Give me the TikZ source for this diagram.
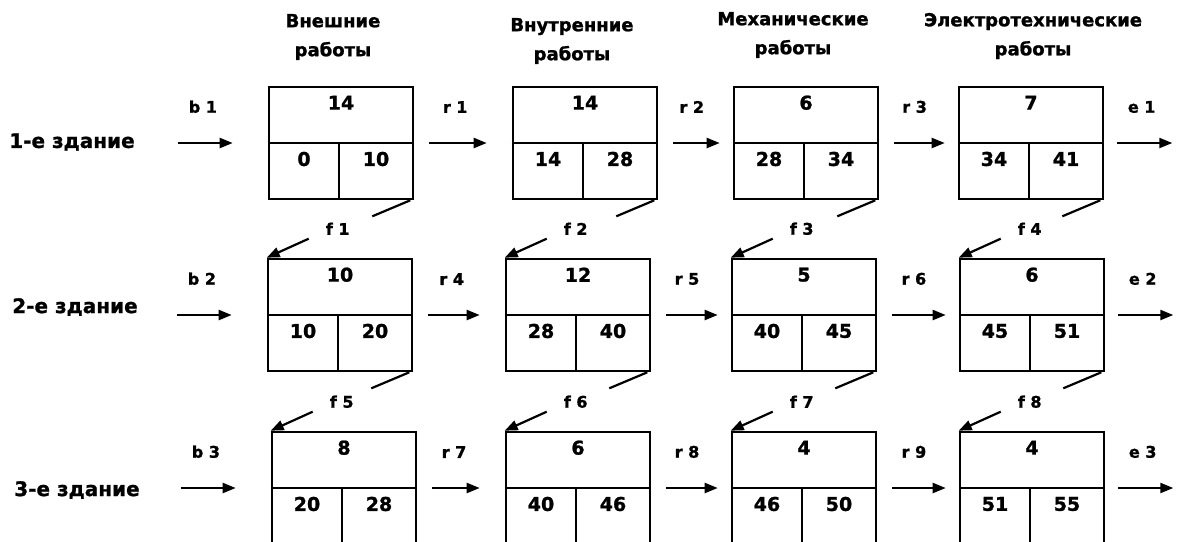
\documentclass[tikz,border=0pt]{standalone}
\usepackage{fontspec}
\setmainfont{DejaVu Sans}[BoldFeatures={FakeBold=1.2}]
\usetikzlibrary{arrows.meta}
\tikzstyle{job}=[draw, line width=2.6pt, minimum width=144pt, minimum height=112pt, inner sep=0pt]
\tikzstyle{job line}=[line width=2.6pt]
\tikzstyle{num}=[font=\bfseries\fontsize{19}{22}\selectfont, inner sep=0pt]
\tikzstyle{head}=[font=\bfseries\fontsize{18}{29}\selectfont, align=center, inner sep=0pt]
\tikzstyle{lbl}=[font=\bfseries\fontsize{16}{18}\selectfont, inner sep=0pt]
\tikzstyle{flow}=[line width=2.2pt, -{Triangle[length=13pt,width=10pt]}]
\tikzstyle{link}=[line width=2.2pt]

\begin{document}
\begin{tikzpicture}[x=1pt,y=-1pt]
	\useasboundingbox (0,0) rectangle (1178,541);
	\clip (0,0) rectangle (1178,541);
	% Заголовки столбцов
	\node[head] (h1) at (333,37) {Внешние\\работы};
	\node[head] (h2) at (572,41) {Внутренние\\работы};
	\node[head] (h3) at (793,35) {Механические\\работы};
	\node[head] (h4) at (1033,36) {Электротехнические\\работы};
	% Здания
	\node[head, font=\bfseries\fontsize{20}{24}\selectfont] (z1) at (72,142) {1-е здание};
	\node[head, font=\bfseries\fontsize{20}{24}\selectfont] (z2) at (75,307) {2-е здание};
	\node[head, font=\bfseries\fontsize{20}{24}\selectfont] (z3) at (77,490) {3-е здание};
	% Работы: продолжительность, начало, окончание
	\foreach \n/\x/\y/\d/\s/\e in {b11/341/143/14/0/10, b12/585/143/14/14/28, b13/806/143/6/28/34, b14/1031/143/7/34/41,
		b21/340/315/10/10/20, b22/578/315/12/28/40, b23/804/315/5/40/45, b24/1032/315/6/45/51,
		b31/344/488/8/20/28, b32/578/488/6/40/46, b33/804/488/4/46/50, b34/1032/488/4/51/55}
	{
		\node[job] (\n) at (\x,\y) {};
		\draw[job line] (\n.west) -- (\n.east) ([xshift=-2pt]\n.center) -- ([xshift=-2pt]\n.south);
		\node[num] (\n-top) at ([yshift=-17pt]\n.north) {\d};
		\node[num] (\n-left) at ([xshift=-37pt,yshift=-16pt]\n.center) {\s};
		\node[num] (\n-right) at ([xshift=35pt,yshift=-16pt]\n.center) {\e};
	}
	% Входы
	\foreach \n/\k in {b11/1, b21/2, b31/3}
	{
		\coordinate (in\k) at ([xshift=-90pt]\n.west);
		\draw[flow, shorten >=35pt] (in\k) -- (\n.west) node[lbl, pos=.28, above=29pt] {b \k};
	}
	% Переходы между работами
	\foreach \p/\q/\k in {b11/b12/1, b21/b22/4, b31/b32/7}
		\draw[flow, shorten <=15pt, shorten >=25pt] (\p.east) -- (\q.west) node[lbl, pos=.42, above=29pt] {r \k};
	\foreach \p/\q/\k in {b12/b13/2, b13/b14/3, b22/b23/5, b23/b24/6, b32/b33/8, b33/b34/9}
		\draw[flow, shorten <=15pt, shorten >=13pt] (\p.east) -- (\q.west) node[lbl, pos=.45, above=29pt] {r \k};
	% Выходы
	\foreach \n/\k in {b14/1, b24/2, b34/3}
	{
		\coordinate (out\k) at ([xshift=68pt]\n.east);
		\draw[flow, shorten <=13pt] (\n.east) -- (out\k) node[lbl, pos=.55, above=29pt] {e \k};
	}
	% Связи между зданиями
	\foreach \p/\q/\k in {b11/b21/1, b12/b22/2, b13/b23/3, b14/b24/4, b21/b31/5, b22/b32/6, b23/b33/7, b24/b34/8}
	{
		\draw[link] ([xshift=-4pt]\p.south east) -- ++(-38,16) coordinate (s\k);
		\draw[flow] ([shift={(42,-19)}]\q.north west) coordinate (f\k) node[lbl, xshift=29pt, yshift=10pt] {f \k} -- (\q.north west);
	}
\end{tikzpicture}
\end{document}
